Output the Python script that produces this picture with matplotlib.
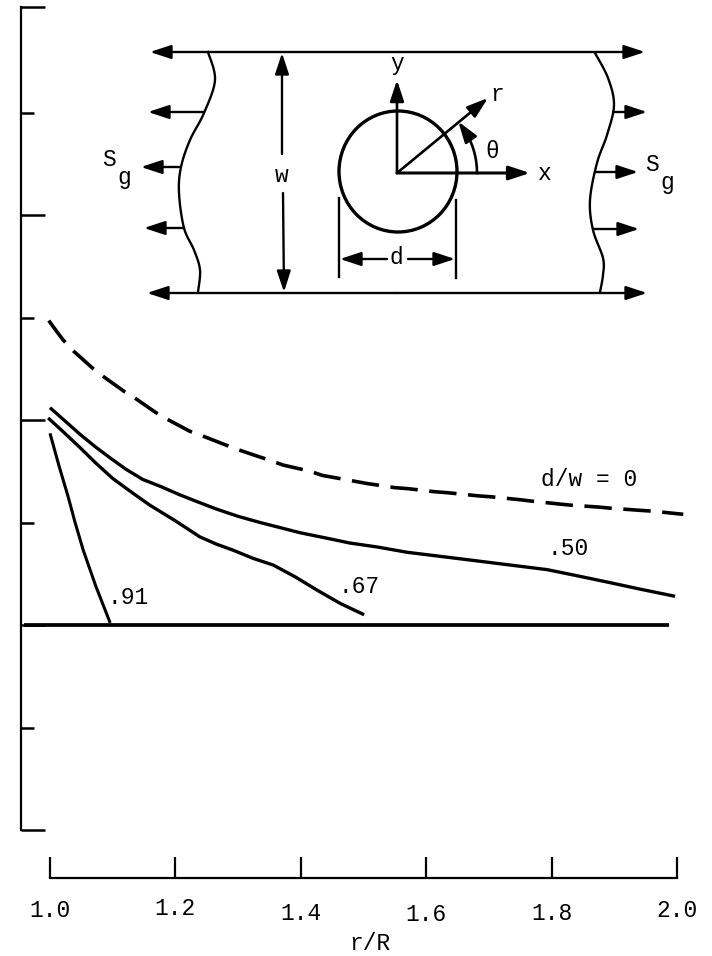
import numpy as np
import matplotlib
matplotlib.use("Agg")
import matplotlib.pyplot as plt
from matplotlib.patches import Ellipse

plt.rcParams["font.family"] = ["Liberation Mono", "DejaVu Sans"]

# curves: r/R and stress ratio
r_0 = [0.998, 1.010, 1.021, 1.038, 1.069, 1.086, 1.118, 1.134, 1.167, 1.180,
       1.223, 1.241, 1.287, 1.305, 1.349, 1.372, 1.415, 1.434, 1.479, 1.506,
       1.550, 1.571, 1.614, 1.635, 1.683, 1.705, 1.753, 1.766, 1.813, 1.829,
       1.876, 1.893, 1.938, 1.962, 2.010]
s_0 = [2.97, 2.87, 2.78, 2.67, 2.50, 2.42, 2.28, 2.22, 2.08, 2.03,
       1.89, 1.85, 1.74, 1.70, 1.61, 1.56, 1.50, 1.46, 1.41, 1.38,
       1.34, 1.33, 1.30, 1.29, 1.26, 1.25, 1.22, 1.21, 1.18, 1.17,
       1.15, 1.14, 1.12, 1.11, 1.08]
r_50 = [1.000, 1.024, 1.048, 1.072, 1.096, 1.121, 1.148, 1.177, 1.207, 1.236,
        1.266, 1.300, 1.335, 1.367, 1.399, 1.439, 1.478, 1.523, 1.569, 1.622,
        1.675, 1.734, 1.793, 1.841, 1.888, 1.941, 1.997]
s_50 = [2.12, 1.99, 1.86, 1.74, 1.63, 1.52, 1.42, 1.35, 1.27, 1.20,
        1.13, 1.06, 1.00, 0.95, 0.90, 0.85, 0.80, 0.76, 0.71, 0.67,
        0.63, 0.585, 0.54, 0.48, 0.42, 0.35, 0.28]
r_67 = [0.997, 1.022, 1.048, 1.073, 1.100, 1.129, 1.159, 1.199, 1.239, 1.265,
        1.292, 1.324, 1.356, 1.391, 1.426, 1.463, 1.501]
s_67 = [2.02, 1.88, 1.73, 1.58, 1.43, 1.30, 1.17, 1.02, 0.86, 0.79,
        0.73, 0.65, 0.585, 0.47, 0.34, 0.21, 0.10]
r_91 = [1.000, 1.014, 1.029, 1.040, 1.053, 1.073, 1.096]
s_91 = [1.87, 1.56, 1.25, 1.00, 0.73, 0.38, 0.02]
x_ticks = [1.0, 1.2, 1.4, 1.6, 1.8, 2.0]
x_labels = ["1.0", "1.2", "1.4", "1.6", "1.8", "2.0"]
x_label_pads = [15, 14, 17, 18, 17, 15]  # the labels wander a bit in the scan
y_major = [-2, 0, 2, 4, 6.03]
y_minor = [-1, 1, 3, 5]

W, H = 712, 956
PX_X0, PX_PER_X = 50.0, 627.0   # r/R = 1.0 pixel, pixels per unit r/R
PX_Y0, PX_PER_Y = 625.0, 102.5  # zero line pixel, pixels per unit
FS = 16.5


def smooth(pts, n=14):
    # catmull-rom through hand-traced sketch points
    pts = np.asarray(pts, float)
    p = np.vstack([pts[0], pts, pts[-1]])
    out = []
    for i in range(1, len(p) - 2):
        for t in np.linspace(0, 1, n, endpoint=False):
            out.append(0.5 * (2 * p[i] + (p[i + 1] - p[i - 1]) * t
                              + (2 * p[i - 1] - 5 * p[i] + 4 * p[i + 1] - p[i + 2]) * t ** 2
                              + (3 * p[i] - p[i - 1] - 3 * p[i + 1] + p[i + 2]) * t ** 3))
    out.append(p[-2])
    return np.array(out)


def arrow(ax, start, end, lw=1.7, ms=15):
    ax.annotate("", xy=end, xytext=start,
                arrowprops=dict(arrowstyle="-|>,head_length=0.85,head_width=0.28", color="k",
                                lw=lw, mutation_scale=ms, shrinkA=0, shrinkB=0))


fig = plt.figure(figsize=(W / 100, H / 100), dpi=100)
ax = fig.add_axes([0, 0, 1, 1])
ax.set_xlim(1 - PX_X0 / PX_PER_X, 1 + (W - PX_X0) / PX_PER_X)
ax.set_ylim((PX_Y0 - H) / PX_PER_Y, PX_Y0 / PX_PER_Y)

for s in ("top", "right"):
    ax.spines[s].set_visible(False)
ax.spines["left"].set_position(("data", 1 - 29 / PX_PER_X))
ax.spines["left"].set_bounds(-2, 6.03)
ax.spines["left"].set_linewidth(1.6)
ax.spines["bottom"].set_position(("data", (PX_Y0 - 878) / PX_PER_Y))
ax.spines["bottom"].set_bounds(1.0, 2.0)
ax.spines["bottom"].set_linewidth(1.6)

ax.set_xticks(x_ticks, x_labels, fontsize=FS)
ax.tick_params(axis="x", direction="in", length=15, width=1.6)
for tick, pad in zip(ax.xaxis.get_major_ticks(), x_label_pads):
    tick.set_pad(pad)
ax.set_yticks(y_major, [""] * len(y_major))
ax.set_yticks(y_minor, [""] * len(y_minor), minor=True)
ax.tick_params(axis="y", which="major", direction="in", length=17, width=1.8)
ax.tick_params(axis="y", which="minor", direction="in", length=9.5, width=1.8)
ax.set_xlabel("r/R", fontsize=FS)
ax.xaxis.set_label_coords(370 / W, 1 - 943 / H)
ax.xaxis.label.set_verticalalignment("center")

ax.plot(r_0, s_0, "k", lw=2.6, dashes=(7.6, 3.2), dash_capstyle="butt")
ax.plot(r_50, s_50, "k", lw=2.4, solid_capstyle="butt")
ax.plot(r_67, s_67, "k", lw=2.4, solid_capstyle="butt")
ax.plot(r_91, s_91, "k", lw=2.2, solid_capstyle="butt")
ax.plot([1 - 26 / PX_PER_X, 1.987], [0, 0], "k", lw=2.7, solid_capstyle="butt")

ax.text(1.125, 0.265, ".91", fontsize=FS, ha="center", va="center")
ax.text(1.493, 0.38, ".67", fontsize=FS, ha="center", va="center")
ax.text(1.827, 0.745, ".50", fontsize=FS, ha="center", va="center")
ax.text(1.860, 1.42, "d/w = 0", fontsize=FS, ha="center", va="center")

# plate sketch, drawn in pixel space on top of the chart
sk = fig.add_axes([0, 0, 1, 1], facecolor="none")
sk.set_xlim(0, W)
sk.set_ylim(H, 0)
sk.axis("off")

for y, x0, x1 in [(52, 150, 645), (293, 147, 647)]:
    arrow(sk, ((x0 + x1) / 2, y), (x0, y))
    arrow(sk, ((x0 + x1) / 2, y), (x1, y))

left_edge = [(208, 52), (215, 80), (204, 113), (190, 140), (181, 167), (179, 193),
             (184, 228), (194, 250), (200, 270), (198, 292)]
right_edge = [(595, 53), (608, 78), (614, 105), (607, 135), (597, 163), (590, 200),
              (593, 230), (603, 258), (603, 275), (600, 292)]
for edge in (left_edge, right_edge):
    c = smooth(edge)
    sk.plot(c[:, 0], c[:, 1], "k", lw=1.7)

for y, x0, x1 in [(112, 204, 148), (167, 181, 141), (228, 184, 144),
                  (112, 613, 647), (172, 595, 638), (229, 593, 639)]:
    arrow(sk, (x0, y), (x1, y))

sk.add_patch(Ellipse((398, 171.5), 118, 121, fill=False, ec="k", lw=2.4))

cx, cy = 397, 173
arrow(sk, (cx, cy), (cx, 80), lw=1.9)
arrow(sk, (cx, cy), (530, cy), lw=2.2)
arrow(sk, (cx, cy), (488, 98), lw=1.9)
ang = np.radians(np.linspace(0, 36, 30))
sk.plot(cx + 80 * np.cos(ang), cy - 80 * np.sin(ang), "k", lw=1.9)
arrow(sk, (cx + 80 * np.cos(ang[-6]), cy - 80 * np.sin(ang[-6])),
      (cx + 80 * np.cos(np.radians(40)), cy - 80 * np.sin(np.radians(40))), lw=1.9)

sk.plot([339, 339], [198, 277], "k", lw=1.7)
sk.plot([456, 456], [200, 278], "k", lw=1.7)
arrow(sk, (387, 259), (340, 259))
arrow(sk, (408, 259), (455, 259))
arrow(sk, (282, 154), (282, 53))
arrow(sk, (283, 193), (284, 292))

for txt, x, y in [("y", 397, 63), ("r", 497, 94), ("x", 545, 173), ("θ", 492, 151),
                  ("d", 396, 258), ("w", 282, 175), ("S", 109, 159), ("g", 124, 177),
                  ("S", 652, 164), ("g", 667, 182)]:
    sk.text(x, y, txt, fontsize=FS, ha="center", va="center")

fig.savefig("out.png", dpi=100)
